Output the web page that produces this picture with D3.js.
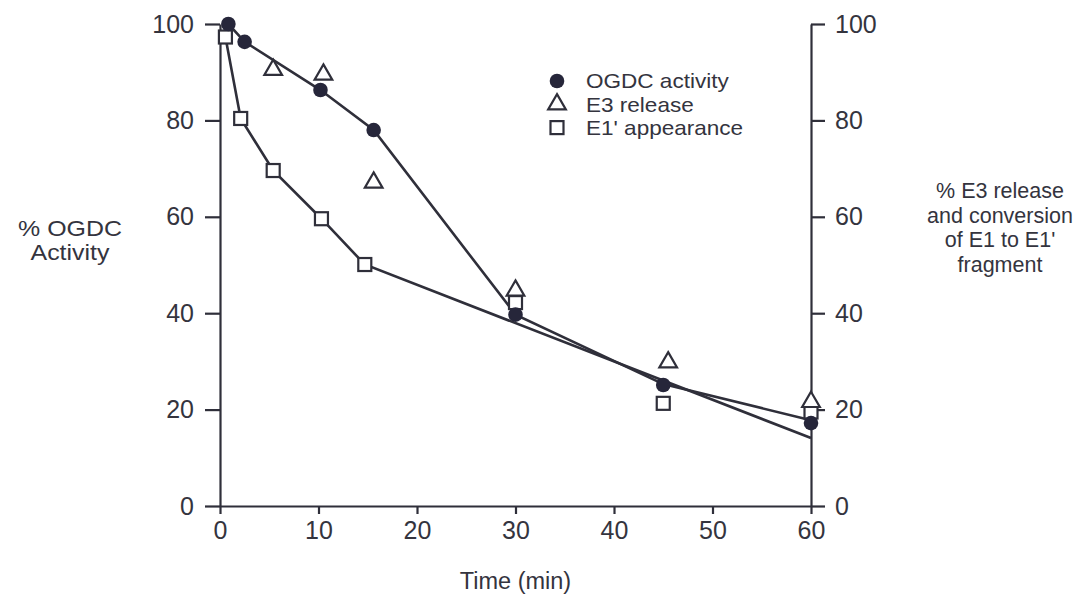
<!DOCTYPE html>
<html>
<head>
<meta charset="utf-8">
<script src="https://cdn.jsdelivr.net/npm/d3@7"></script>
<style>
  html, body { margin: 0; padding: 0; background: #ffffff; }
  svg { display: block; }
  text { font-family: "Liberation Sans", Arial, Helvetica, sans-serif; fill: #34343e; }
</style>
</head>
<body>
<svg id="chart" width="1077" height="611"></svg>
<script>
// Time points (min) and measured values for each series
const ogdcTime = [0.85, 2.5, 10.2, 15.6, 30, 45, 60];
const ogdcActivity = [100, 96.3, 86.3, 78, 39.7, 25.1, 17.2];

const e3Time = [5.4, 10.5, 15.6, 30, 45.5, 60];
const e3Release = [90.5, 89.5, 67.1, 44.7, 29.8, 21.6];

const e1Time = [0.55, 2.1, 5.4, 10.3, 14.7, 30, 45, 60];
const e1Appearance = [97.3, 80.4, 69.6, 59.6, 50.1, 42.2, 21.3, 19.5];

// Drawn trend lines (hand-fitted through the points)
const ogdcFitTime = [0.85, 2.5, 10.2, 15.6, 30, 45, 60];
const ogdcFitValue = [100, 96.3, 86.3, 78, 39.7, 25.3, 17.8];
const e1FitTime = [0.55, 2.1, 5.4, 10.3, 14.7, 60];
const e1FitValue = [97.3, 80.4, 69.6, 59.6, 50.1, 14.1];

// Axes ticks and labels
const xTicks = [0, 10, 20, 30, 40, 50, 60];
const yTicks = [0, 20, 40, 60, 80, 100];
const xTitle = "Time (min)";
const yLeftTitle = ["% OGDC", "Activity"];
const yRightTitle = ["% E3 release", "and conversion", "of E1 to E1'", "fragment"];
const legendLabels = ["OGDC activity", "E3 release", "E1' appearance"];

const ink = "#2f2f3a";
const svg = d3.select("#chart");

const x = d3.scaleLinear().domain([0, 60]).range([220, 811]);
const yL = d3.scaleLinear().domain([0, 100]).range([506, 24]);
const yR = d3.scaleLinear().domain([0, 100]).range([506, 24]);

function styleAxis(g) {
  g.selectAll(".domain").attr("stroke", ink).attr("stroke-width", 2.2);
  g.selectAll(".tick line").attr("stroke", ink).attr("stroke-width", 2.2);
  g.selectAll(".tick text").style("font-size", "25px").attr("fill", "#34343e");
}

// Left axis
svg.append("g")
  .attr("transform", `translate(${x(0)},0)`)
  .call(d3.axisLeft(yL).tickValues(yTicks).tickSize(15).tickSizeOuter(0).tickPadding(11))
  .call(styleAxis);

// Right axis
svg.append("g")
  .attr("transform", `translate(${x(60)},0)`)
  .call(d3.axisRight(yR).tickValues(yTicks).tickSize(14).tickSizeOuter(0).tickPadding(10))
  .call(styleAxis);

// Bottom axis
const bottom = svg.append("g")
  .attr("transform", `translate(0,${yL(0)})`)
  .call(d3.axisBottom(x).tickValues(xTicks).tickSize(8).tickSizeOuter(0).tickPadding(7))
  .call(styleAxis);
bottom.selectAll(".tick text").attr("dy", "0.72em");

// Axis titles
svg.append("text")
  .attr("x", x(30)).attr("y", 589)
  .attr("text-anchor", "middle")
  .style("font-size", "23.5px")
  .text(xTitle);

// Left title: two stacked lines, set slightly wide
svg.append("g")
  .attr("transform", "translate(70,0) scale(1.16,1)")
  .append("text")
  .attr("text-anchor", "middle")
  .style("font-size", "21.5px")
  .selectAll("tspan").data(yLeftTitle).join("tspan")
  .attr("x", 0).attr("y", (d, i) => 236 + i * 24.5)
  .text(d => d);

svg.append("text")
  .attr("text-anchor", "middle")
  .style("font-size", "21.5px")
  .selectAll("tspan").data(yRightTitle).join("tspan")
  .attr("x", 1000).attr("y", (d, i) => 198 + i * 24.7)
  .text(d => d);

// Trend lines
const line = d3.line().x(d => x(d[0])).y(d => yL(d[1]));
svg.append("path")
  .datum(d3.zip(ogdcFitTime, ogdcFitValue))
  .attr("d", line).attr("fill", "none").attr("stroke", ink).attr("stroke-width", 2.6);
svg.append("path")
  .datum(d3.zip(e1FitTime, e1FitValue))
  .attr("d", line).attr("fill", "none").attr("stroke", ink).attr("stroke-width", 2.6);

// Marker shapes
const triPath = d3.symbol().type(d3.symbolTriangle).size(135)();
function drawTriangle(g, cx, cy) {
  g.append("path").attr("d", triPath)
    .attr("transform", `translate(${cx},${cy})`)
    .attr("fill", "#ffffff").attr("stroke", ink).attr("stroke-width", 2.2);
}
function drawSquare(g, cx, cy) {
  g.append("rect").attr("x", cx - 6.5).attr("y", cy - 6.5)
    .attr("width", 13).attr("height", 13)
    .attr("fill", "#ffffff").attr("stroke", ink).attr("stroke-width", 2.2);
}
function drawDot(g, cx, cy) {
  g.append("circle").attr("cx", cx).attr("cy", cy).attr("r", 7.3)
    .attr("fill", "#26263a");
}

const marks = svg.append("g");
d3.zip(e1Time, e1Appearance).forEach(d => drawSquare(marks, x(d[0]), yR(d[1])));
d3.zip(e3Time, e3Release).forEach(d => drawTriangle(marks, x(d[0]), yR(d[1])));
d3.zip(ogdcTime, ogdcActivity).forEach(d => drawDot(marks, x(d[0]), yL(d[1])));

// Legend
const legend = svg.append("g");
const lx = 557, ly0 = 81, dy = 23.3;
drawDot(legend, lx, ly0);
drawTriangle(legend, lx, ly0 + dy);
drawSquare(legend, lx, ly0 + 2 * dy);
legend.append("g")
  .attr("transform", "translate(586,0) scale(1.1,1)")
  .selectAll("text").data(legendLabels).join("text")
  .attr("x", 0).attr("y", (d, i) => ly0 + i * dy + 7.5)
  .style("font-size", "20.5px")
  .text(d => d);
</script>
</body>
</html>
